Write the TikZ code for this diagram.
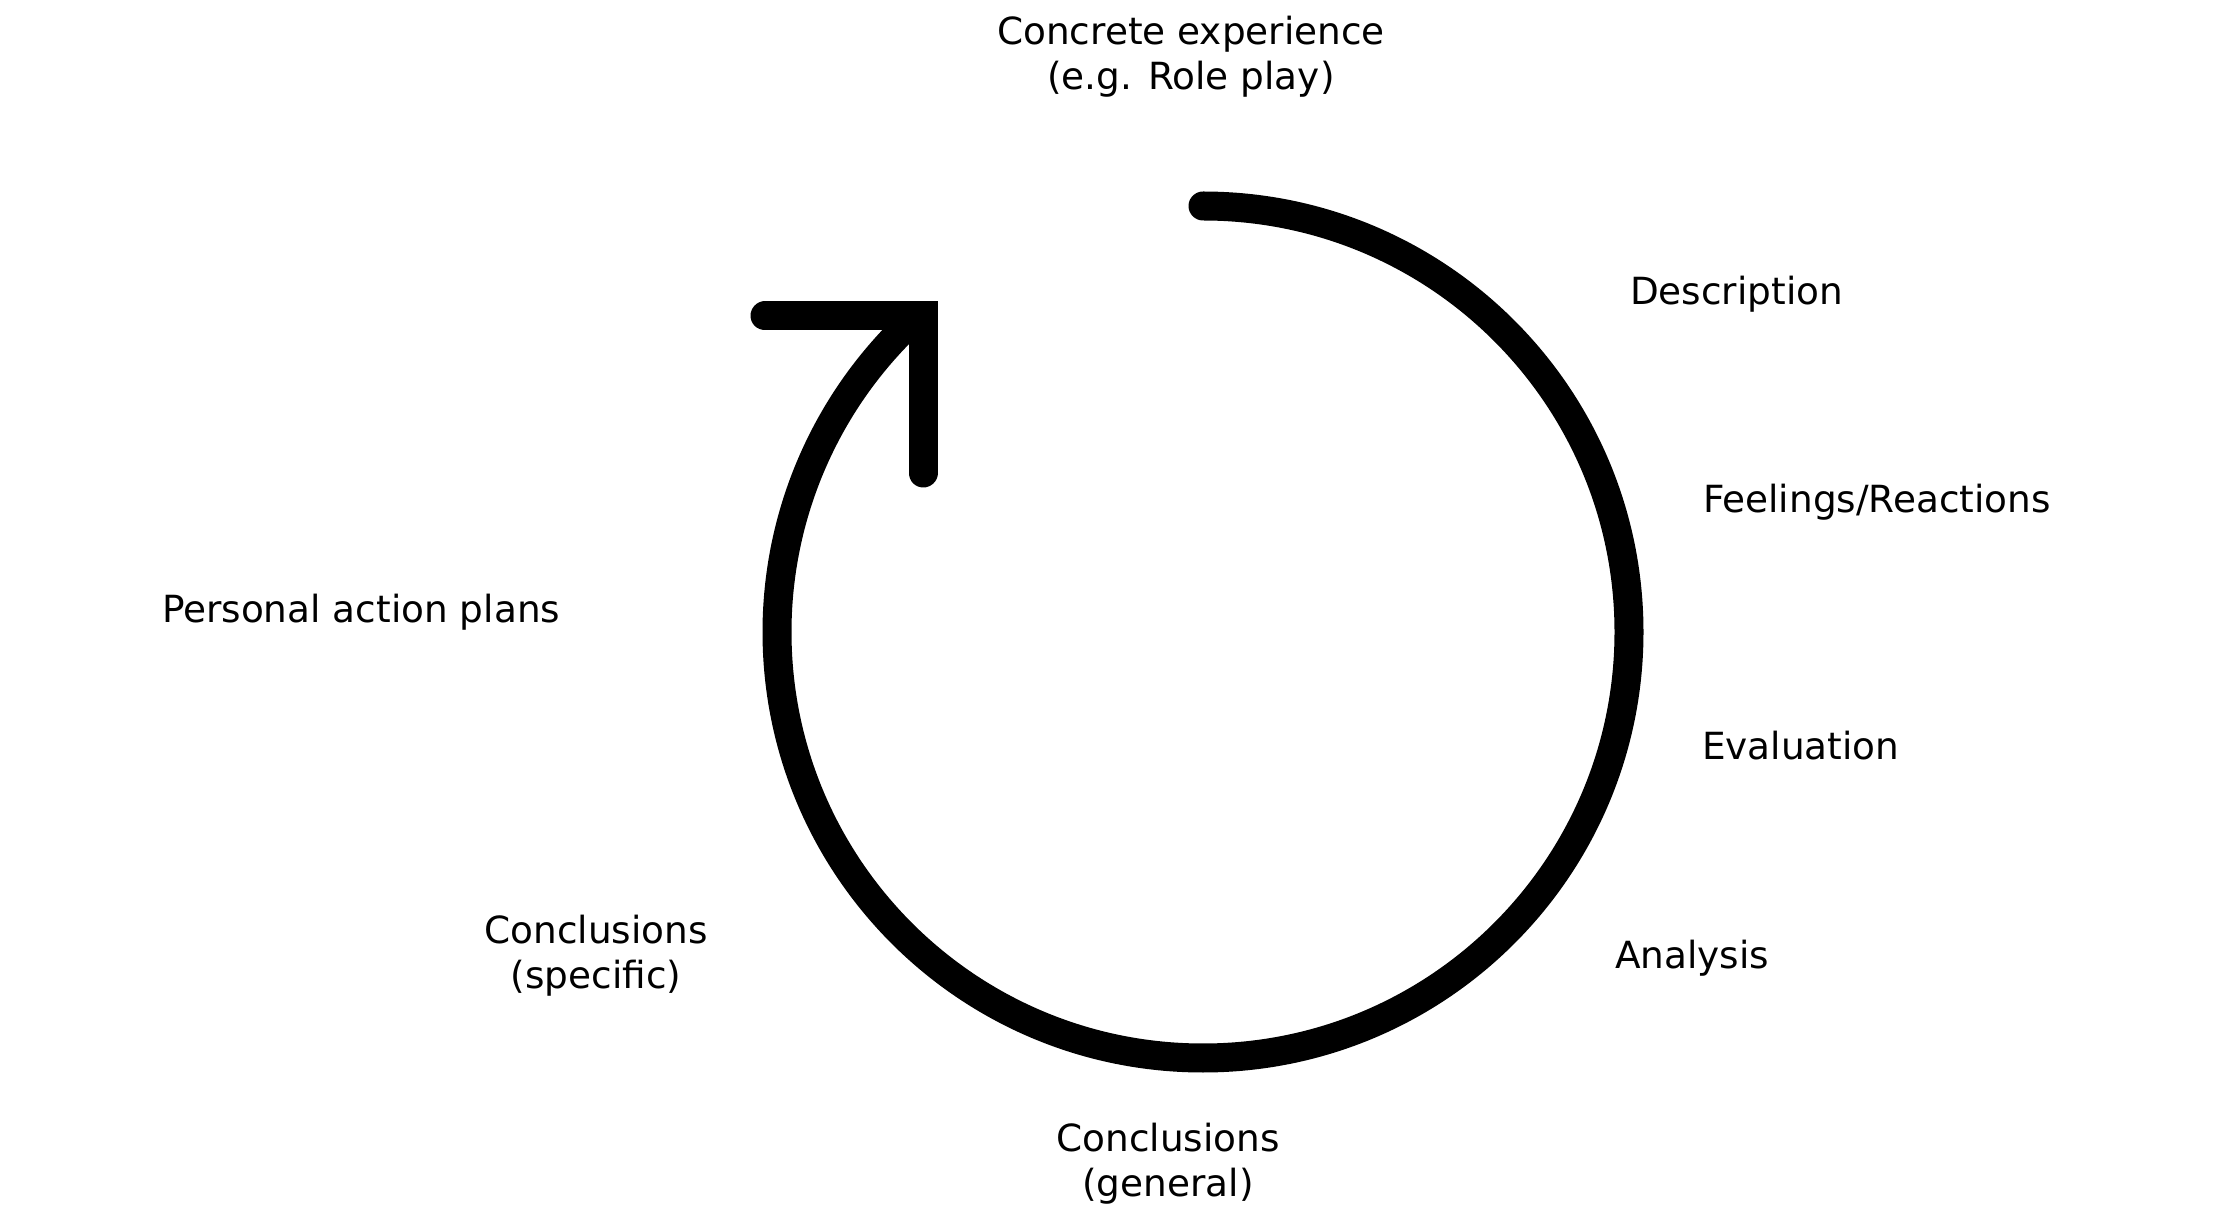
\documentclass[tikz,border=0pt]{standalone}
\usepackage{fontspec}
\setmainfont{DejaVu Sans}
\begin{document}
\begin{tikzpicture}[x=0.5pt,y=0.5pt,
  lbl/.style={inner sep=0pt, outer sep=0pt, text=black,
    font=\fontsize{18.7pt}{22.5pt}\selectfont},
  ring/.style={line width=14.5pt, line cap=round, black},
  headlines/.style={line width=14.5pt, line cap=round, line join=miter, black}]
\useasboundingbox (0,0) rectangle (2228,1206);
% cycle arrow
\coordinate (c) at (1203,574);
\coordinate (start) at (1203,1000);
\draw[ring] (start) arc[start angle=90, end angle=-226.5, radius=426];
\coordinate (hl) at (765,890);
\coordinate (vb) at (923,733);
\coordinate (tipc) at (923,890);
\draw[headlines] (hl) -- (tipc) -- (vb);
% labels (multi-line nodes: base = last line's baseline)
\node[lbl, anchor=base, align=center] (concrete) at (1191,1116) {Concrete experience\\(e.g. Role play)};
\node[lbl, anchor=base west] (desc) at (1630,901) {Description};
\node[lbl, anchor=base west] (feel) at (1703,693) {Feelings/Reactions};
\node[lbl, anchor=base west] (eval) at (1702,446) {Evaluation};
\node[lbl, anchor=base west] (anal) at (1615,238) {Analysis};
\node[lbl, anchor=base, align=center] (cgen) at (1168,10) {Conclusions\\(general)};
\node[lbl, anchor=base, align=center] (cspec) at (596,218) {Conclusions\\(specific)};
\node[lbl, anchor=base west] (plans) at (162,583) {Personal action plans};
\end{tikzpicture}
\end{document}
